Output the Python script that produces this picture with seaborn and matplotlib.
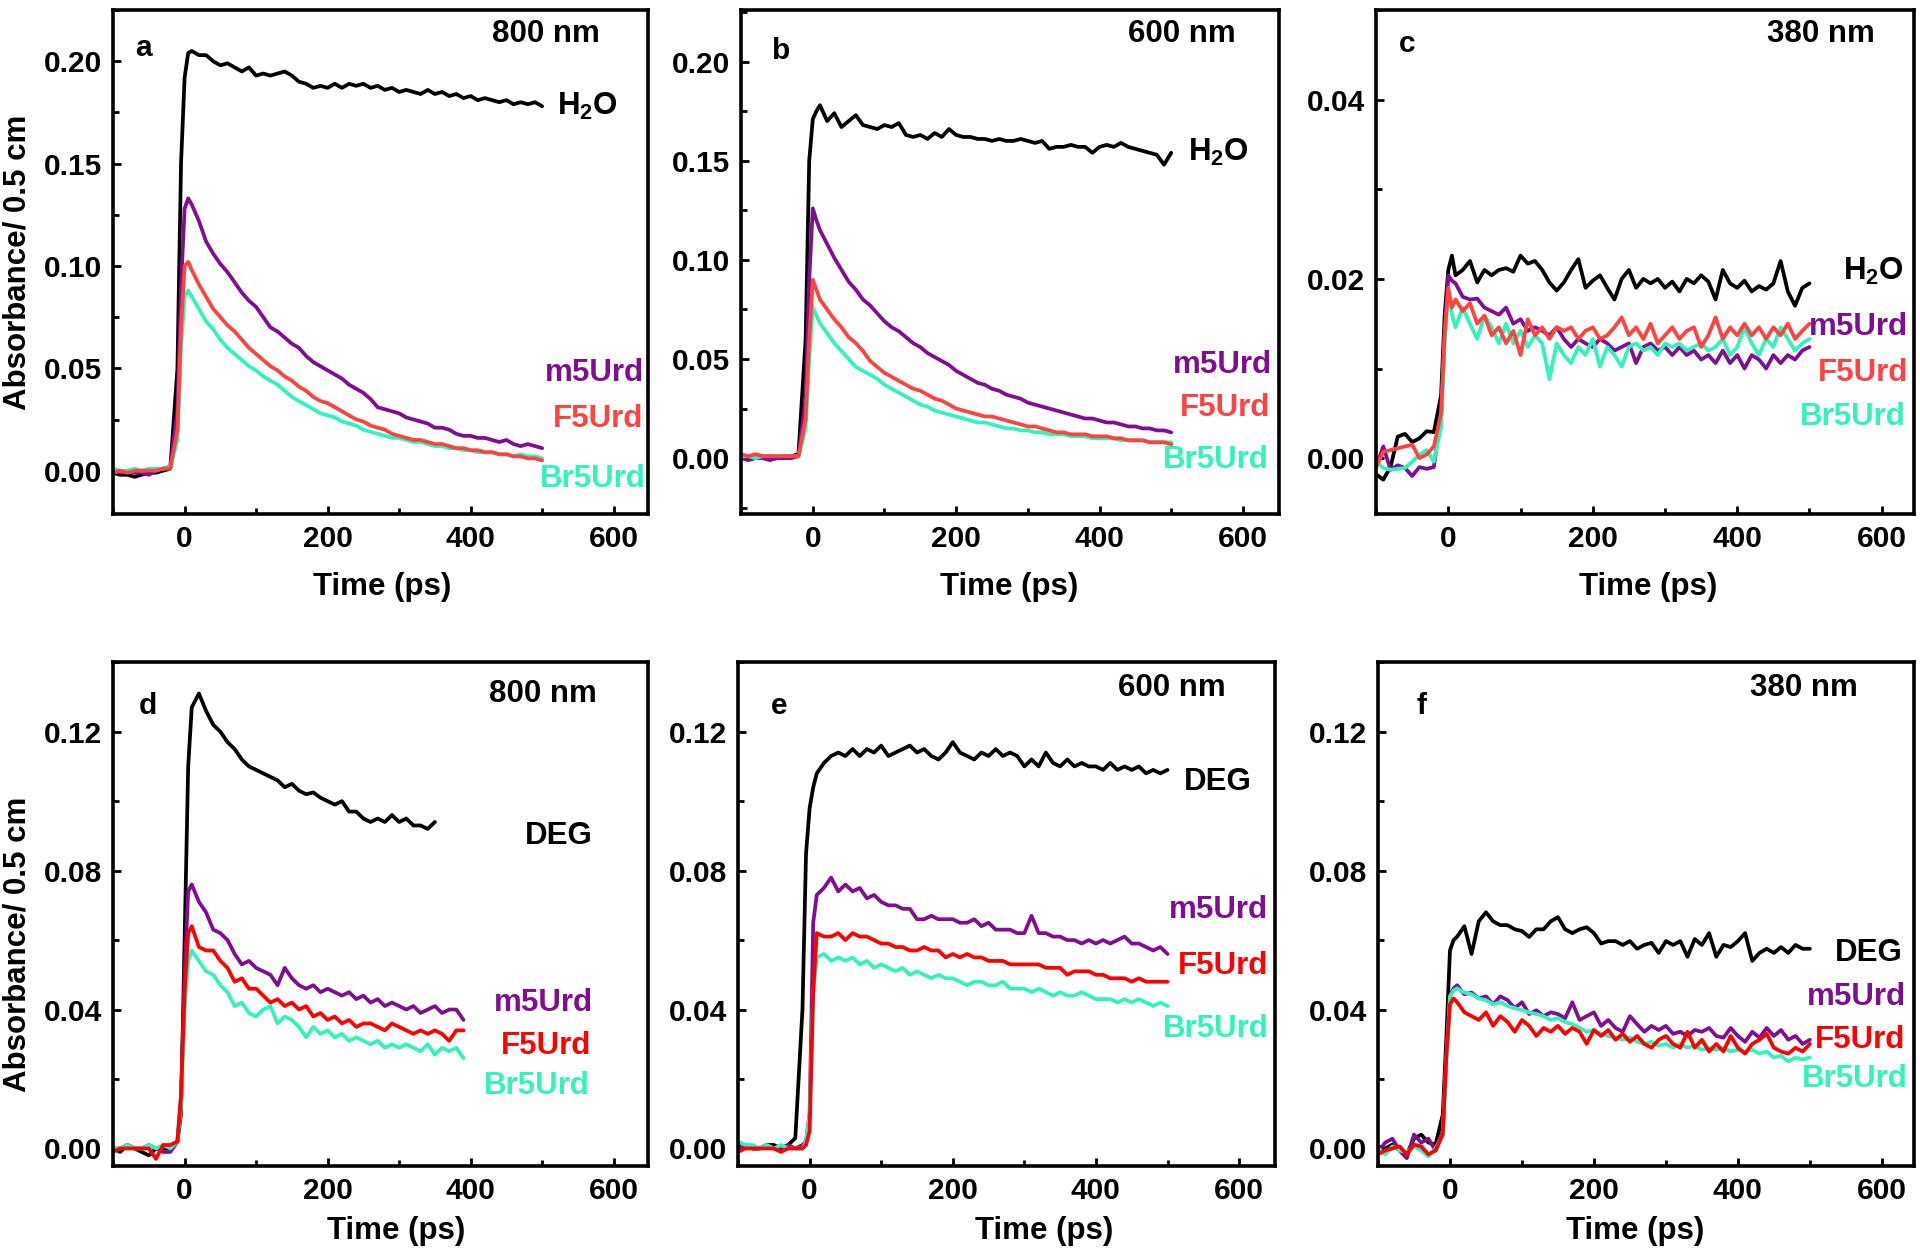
import matplotlib.pyplot as plt
import pandas as pd
import seaborn as sns
from matplotlib.ticker import FormatStrFormatter, MultipleLocator

# delay times (ps), shared by every trace
T = [-100, -90, -80, -70, -60, -50, -40, -30, -20, -10, -5, 0, 5, 10,
     20, 30, 40, 50, 60, 70, 80, 90, 100, 110,
     120, 130, 140, 150, 160, 170, 180, 190, 200, 210,
     220, 230, 240, 250, 260, 270, 280, 290, 300, 310,
     320, 330, 340, 350, 360, 370, 380, 390, 400, 410,
     420, 430, 440, 450, 460, 470, 480, 490, 500]

# ---- a: 800 nm, H2O ----
h2o_a = [-0.001, -0.002, -0.002, -0.003, -0.002, -0.001, -0.001, 0.000, 0.001,
         0.050, 0.150, 0.192, 0.204, 0.205,
         0.203, 0.203, 0.200, 0.198, 0.199, 0.197, 0.195, 0.197, 0.193, 0.194,
         0.193, 0.194, 0.195, 0.193, 0.190, 0.189, 0.187, 0.188, 0.187, 0.189,
         0.187, 0.189, 0.188, 0.189, 0.187, 0.188, 0.186, 0.187, 0.185, 0.186,
         0.185, 0.184, 0.186, 0.184, 0.185, 0.183, 0.184, 0.182, 0.183, 0.181,
         0.182, 0.181, 0.180, 0.181, 0.179, 0.180, 0.179, 0.180, 0.178]
m5_a = [0.000, -0.001, 0.000, -0.001, -0.001, -0.002, 0.000, 0.001, 0.002,
        0.030, 0.090, 0.128, 0.133, 0.130,
        0.122, 0.112, 0.106, 0.101, 0.097, 0.092, 0.087, 0.083, 0.080, 0.075,
        0.070, 0.068, 0.065, 0.062, 0.060, 0.056, 0.053, 0.051, 0.049, 0.047,
        0.045, 0.042, 0.040, 0.038, 0.035, 0.031, 0.030, 0.029, 0.028, 0.026,
        0.025, 0.024, 0.023, 0.021, 0.021, 0.020, 0.018, 0.017, 0.017, 0.016,
        0.016, 0.015, 0.014, 0.015, 0.013, 0.012, 0.013, 0.012, 0.011]
f5_a = [-0.001, 0.000, -0.001, 0.000, 0.000, 0.000, 0.000, 0.001, 0.001,
        0.020, 0.070, 0.100, 0.102, 0.098,
        0.091, 0.085, 0.079, 0.075, 0.071, 0.068, 0.064, 0.060, 0.057, 0.054,
        0.051, 0.049, 0.046, 0.044, 0.041, 0.039, 0.036, 0.034, 0.033, 0.031,
        0.029, 0.027, 0.025, 0.024, 0.022, 0.021, 0.020, 0.018, 0.017, 0.016,
        0.015, 0.015, 0.014, 0.013, 0.013, 0.012, 0.011, 0.011, 0.010, 0.010,
        0.009, 0.009, 0.008, 0.008, 0.007, 0.007, 0.006, 0.006, 0.005]
br5_a = [0.001, 0.000, 0.000, 0.001, 0.000, 0.001, 0.001, 0.001, 0.002,
         0.015, 0.060, 0.085, 0.088, 0.085,
         0.079, 0.073, 0.069, 0.064, 0.060, 0.057, 0.054, 0.051, 0.049, 0.046,
         0.044, 0.042, 0.039, 0.036, 0.034, 0.032, 0.030, 0.028, 0.027, 0.026,
         0.024, 0.023, 0.022, 0.020, 0.019, 0.018, 0.017, 0.016, 0.016, 0.015,
         0.014, 0.014, 0.013, 0.012, 0.012, 0.011, 0.011, 0.010, 0.010, 0.009,
         0.009, 0.009, 0.008, 0.008, 0.007, 0.008, 0.007, 0.007, 0.006]

# ---- b: 600 nm, H2O ----
h2o_b = [0.001, 0.000, 0.001, 0.001, 0.001, 0.000, 0.001, 0.001, 0.002,
         0.060, 0.150, 0.171, 0.175, 0.178,
         0.170, 0.174, 0.167, 0.170, 0.173, 0.168, 0.167, 0.166, 0.168, 0.167,
         0.169, 0.163, 0.162, 0.163, 0.161, 0.164, 0.162, 0.166, 0.163, 0.162,
         0.162, 0.161, 0.161, 0.160, 0.161, 0.160, 0.160, 0.161, 0.160, 0.159,
         0.160, 0.156, 0.157, 0.157, 0.158, 0.157, 0.157, 0.154, 0.157, 0.158,
         0.157, 0.159, 0.157, 0.156, 0.155, 0.154, 0.153, 0.148, 0.154]
m5_b = [0.000, -0.001, 0.000, 0.000, -0.001, 0.000, 0.000, 0.000, 0.001,
        0.030, 0.090, 0.126, 0.120, 0.115,
        0.108, 0.101, 0.095, 0.089, 0.085, 0.080, 0.077, 0.073, 0.069, 0.066,
        0.064, 0.061, 0.058, 0.056, 0.053, 0.051, 0.049, 0.047, 0.044, 0.042,
        0.040, 0.038, 0.037, 0.035, 0.034, 0.032, 0.031, 0.030, 0.028, 0.027,
        0.026, 0.025, 0.024, 0.023, 0.022, 0.021, 0.020, 0.020, 0.019, 0.018,
        0.018, 0.017, 0.016, 0.016, 0.015, 0.015, 0.014, 0.014, 0.013]
f5_b = [0.002, 0.001, 0.002, 0.001, 0.001, 0.001, 0.001, 0.001, 0.001,
        0.020, 0.060, 0.090, 0.085, 0.080,
        0.075, 0.070, 0.066, 0.061, 0.058, 0.054, 0.049, 0.046, 0.043, 0.041,
        0.039, 0.037, 0.035, 0.034, 0.032, 0.030, 0.029, 0.027, 0.025, 0.024,
        0.023, 0.022, 0.021, 0.021, 0.020, 0.019, 0.018, 0.017, 0.016, 0.016,
        0.015, 0.014, 0.013, 0.013, 0.012, 0.012, 0.012, 0.011, 0.011, 0.011,
        0.010, 0.010, 0.009, 0.009, 0.009, 0.008, 0.008, 0.008, 0.007]
br5_b = [0.001, 0.001, 0.000, 0.001, 0.001, 0.001, 0.001, 0.001, 0.001,
         0.015, 0.050, 0.076, 0.072, 0.068,
         0.063, 0.058, 0.054, 0.050, 0.046, 0.044, 0.042, 0.040, 0.037, 0.035,
         0.033, 0.031, 0.029, 0.027, 0.026, 0.024, 0.023, 0.022, 0.021, 0.020,
         0.019, 0.018, 0.018, 0.017, 0.016, 0.015, 0.015, 0.014, 0.014, 0.013,
         0.013, 0.012, 0.012, 0.012, 0.011, 0.011, 0.011, 0.010, 0.010, 0.010,
         0.010, 0.009, 0.009, 0.009, 0.009, 0.008, 0.008, 0.008, 0.008]

# ---- c: 380 nm, H2O ----
h2o_c = [-0.0018, -0.0024, -0.0010, 0.0024, 0.0027, 0.0018, 0.0022, 0.0030, 0.0029,
         0.0070, 0.0160, 0.0210, 0.0226, 0.0204,
         0.0210, 0.0220, 0.0196, 0.0210, 0.0204, 0.0210, 0.0212, 0.0208, 0.0226, 0.0217,
         0.0220, 0.0210, 0.0196, 0.0187, 0.0196, 0.0210, 0.0222, 0.0190, 0.0198, 0.0204,
         0.0190, 0.0177, 0.0200, 0.0210, 0.0190, 0.0200, 0.0195, 0.0200, 0.0190, 0.0197,
         0.0186, 0.0200, 0.0195, 0.0204, 0.0197, 0.0177, 0.0210, 0.0195, 0.0190, 0.0198,
         0.0186, 0.0192, 0.0188, 0.0195, 0.0220, 0.0186, 0.0170, 0.0190, 0.0195]
m5_c = [-0.0010, 0.0013, -0.0013, -0.0008, -0.0011, -0.0020, -0.0010, -0.0012, -0.0010,
        0.0050, 0.0140, 0.0204, 0.0198, 0.0195,
        0.0180, 0.0177, 0.0178, 0.0168, 0.0164, 0.0160, 0.0168, 0.0150, 0.0155, 0.0142,
        0.0146, 0.0142, 0.0137, 0.0146, 0.0133, 0.0124, 0.0133, 0.0128, 0.0124, 0.0133,
        0.0128, 0.0120, 0.0124, 0.0128, 0.0106, 0.0124, 0.0128, 0.0120, 0.0124, 0.0115,
        0.0124, 0.0115, 0.0120, 0.0110, 0.0115, 0.0106, 0.0120, 0.0106, 0.0115, 0.0100,
        0.0115, 0.0110, 0.0100, 0.0115, 0.0106, 0.0115, 0.0110, 0.0120, 0.0124]
f5_c = [-0.0010, 0.0007, 0.0009, 0.0011, 0.0013, 0.0015, 0.0000, 0.0004, 0.0013,
        0.0050, 0.0140, 0.0190, 0.0168, 0.0177,
        0.0164, 0.0173, 0.0150, 0.0159, 0.0137, 0.0146, 0.0128, 0.0142, 0.0115, 0.0155,
        0.0137, 0.0146, 0.0133, 0.0146, 0.0142, 0.0146, 0.0133, 0.0142, 0.0146, 0.0133,
        0.0137, 0.0146, 0.0157, 0.0137, 0.0146, 0.0133, 0.0150, 0.0128, 0.0137, 0.0146,
        0.0133, 0.0142, 0.0146, 0.0124, 0.0137, 0.0157, 0.0133, 0.0146, 0.0137, 0.0150,
        0.0137, 0.0146, 0.0133, 0.0146, 0.0137, 0.0150, 0.0133, 0.0142, 0.0150]
br5_c = [-0.0004, -0.0011, -0.0013, -0.0012, -0.0011, -0.0004, 0.0004, 0.0009, -0.0004,
         0.0035, 0.0130, 0.0186, 0.0160, 0.0146,
         0.0168, 0.0150, 0.0133, 0.0159, 0.0146, 0.0128, 0.0150, 0.0128, 0.0142, 0.0124,
         0.0137, 0.0128, 0.0088, 0.0128, 0.0115, 0.0106, 0.0124, 0.0115, 0.0133, 0.0102,
         0.0124, 0.0115, 0.0102, 0.0124, 0.0128, 0.0120, 0.0124, 0.0115, 0.0128, 0.0124,
         0.0128, 0.0120, 0.0124, 0.0128, 0.0120, 0.0124, 0.0133, 0.0115, 0.0124, 0.0146,
         0.0128, 0.0115, 0.0133, 0.0124, 0.0146, 0.0133, 0.0120, 0.0128, 0.0133]

# ---- d: 800 nm, DEG (shorter scans) ----
deg_d = [0.000, -0.001, 0.001, 0.000, -0.001, -0.002, 0.000, 0.000, 0.000,
         0.002, 0.010, 0.060, 0.110, 0.127,
         0.131, 0.126, 0.122, 0.120, 0.117, 0.115, 0.112, 0.110, 0.109, 0.108,
         0.107, 0.106, 0.104, 0.105, 0.103, 0.102, 0.1025, 0.101, 0.100, 0.099,
         0.100, 0.097, 0.097, 0.095, 0.094, 0.095, 0.094, 0.096, 0.094, 0.095,
         0.093, 0.093, 0.092, 0.094]
m5_d = [0.000, 0.000, 0.001, 0.000, 0.000, 0.001, 0.000, -0.001, -0.001,
        0.002, 0.015, 0.050, 0.074, 0.076,
        0.071, 0.068, 0.063, 0.062, 0.060, 0.056, 0.053, 0.054, 0.052, 0.051,
        0.050, 0.047, 0.052, 0.049, 0.047, 0.046, 0.047, 0.045, 0.046, 0.045,
        0.044, 0.045, 0.043, 0.044, 0.042, 0.043, 0.041, 0.042, 0.041, 0.040,
        0.041, 0.039, 0.040, 0.041, 0.039, 0.040, 0.040, 0.037]
f5_d = [-0.001, 0.000, 0.000, 0.000, 0.000, 0.000, -0.003, 0.001, 0.001,
        0.002, 0.015, 0.045, 0.062, 0.064,
        0.058, 0.057, 0.057, 0.054, 0.052, 0.048, 0.049, 0.046, 0.046, 0.044,
        0.042, 0.043, 0.041, 0.042, 0.040, 0.041, 0.038, 0.039, 0.037, 0.038,
        0.036, 0.037, 0.035, 0.036, 0.036, 0.035, 0.034, 0.036, 0.035, 0.034,
        0.033, 0.034, 0.033, 0.034, 0.033, 0.031, 0.034, 0.034]
br5_d = [0.000, 0.000, 0.001, 0.000, 0.000, 0.001, 0.000, 0.001, 0.000,
         0.002, 0.012, 0.040, 0.054, 0.057,
         0.054, 0.051, 0.050, 0.047, 0.045, 0.041, 0.042, 0.039, 0.038, 0.040,
         0.041, 0.036, 0.038, 0.037, 0.035, 0.032, 0.035, 0.033, 0.034, 0.032,
         0.033, 0.031, 0.032, 0.031, 0.030, 0.031, 0.029, 0.030, 0.029, 0.030,
         0.029, 0.028, 0.030, 0.027, 0.029, 0.028, 0.029, 0.026]

# ---- e: 600 nm, DEG ----
deg_e = [0.001, 0.001, 0.000, 0.000, 0.001, 0.001, 0.000, 0.001, 0.003,
         0.040, 0.085, 0.098, 0.104, 0.108,
         0.111, 0.113, 0.114, 0.113, 0.115, 0.113, 0.115, 0.114, 0.116, 0.113,
         0.114, 0.115, 0.116, 0.114, 0.115, 0.113, 0.112, 0.114, 0.117, 0.114,
         0.113, 0.112, 0.114, 0.113, 0.115, 0.113, 0.114, 0.113, 0.110, 0.112,
         0.110, 0.114, 0.111, 0.110, 0.112, 0.110, 0.111, 0.110, 0.110, 0.109,
         0.111, 0.109, 0.110, 0.109, 0.110, 0.108, 0.109, 0.108, 0.109]
m5_e = [0.000, 0.001, 0.000, 0.000, 0.001, 0.000, 0.000, 0.001, 0.000,
        0.001, 0.002, 0.010, 0.065, 0.073,
        0.075, 0.078, 0.074, 0.076, 0.074, 0.075, 0.072, 0.073, 0.071, 0.070,
        0.070, 0.069, 0.069, 0.066, 0.066, 0.067, 0.066, 0.066, 0.066, 0.065,
        0.065, 0.066, 0.064, 0.065, 0.063, 0.063, 0.063, 0.062, 0.062, 0.067,
        0.062, 0.062, 0.061, 0.061, 0.060, 0.060, 0.059, 0.060, 0.059, 0.060,
        0.059, 0.060, 0.061, 0.059, 0.059, 0.058, 0.057, 0.058, 0.056]
f5_e = [-0.001, 0.000, 0.000, 0.000, 0.000, 0.000, -0.001, 0.000, 0.000,
        0.000, 0.001, 0.005, 0.045, 0.062,
        0.061, 0.061, 0.062, 0.060, 0.062, 0.061, 0.061, 0.060, 0.059, 0.059,
        0.058, 0.058, 0.057, 0.057, 0.058, 0.057, 0.057, 0.055, 0.056, 0.055,
        0.056, 0.055, 0.055, 0.054, 0.054, 0.054, 0.053, 0.053, 0.053, 0.053,
        0.053, 0.052, 0.052, 0.052, 0.050, 0.051, 0.051, 0.051, 0.050, 0.050,
        0.049, 0.049, 0.049, 0.048, 0.049, 0.048, 0.048, 0.048, 0.048]
br5_e = [0.002, 0.001, 0.001, 0.000, 0.001, 0.000, 0.001, 0.000, 0.000,
         0.000, 0.002, 0.010, 0.045, 0.055,
         0.056, 0.054, 0.055, 0.054, 0.055, 0.053, 0.054, 0.052, 0.053, 0.052,
         0.051, 0.052, 0.050, 0.051, 0.050, 0.049, 0.050, 0.049, 0.049, 0.048,
         0.047, 0.048, 0.048, 0.047, 0.047, 0.048, 0.046, 0.046, 0.046, 0.045,
         0.046, 0.045, 0.044, 0.045, 0.044, 0.044, 0.045, 0.044, 0.043, 0.043,
         0.043, 0.042, 0.043, 0.042, 0.043, 0.042, 0.041, 0.042, 0.041]

# ---- f: 380 nm, DEG ----
deg_f = [0.0006, 0.0000, 0.0011, 0.0000, -0.0017, 0.0028, 0.0040, 0.0017, 0.0011,
         0.0097, 0.0320, 0.0570, 0.0600, 0.0610,
         0.0640, 0.0560, 0.0654, 0.0680, 0.0654, 0.0643, 0.0643, 0.0631, 0.0626, 0.0609,
         0.0631, 0.0631, 0.0654, 0.0666, 0.0631, 0.0620, 0.0631, 0.0637, 0.0620, 0.0590,
         0.0597, 0.0597, 0.0586, 0.0597, 0.0575, 0.0586, 0.0592, 0.0563, 0.0597, 0.0586,
         0.0597, 0.0552, 0.0603, 0.0586, 0.0620, 0.0552, 0.0586, 0.0580, 0.0597, 0.0620,
         0.0540, 0.0563, 0.0575, 0.0563, 0.0580, 0.0563, 0.0586, 0.0575, 0.0575]
m5_f = [-0.0011, 0.0017, 0.0028, -0.0006, -0.0028, 0.0040, 0.0017, 0.0028, -0.0006,
        0.0051, 0.0267, 0.0438, 0.0461, 0.0470,
        0.0444, 0.0449, 0.0432, 0.0438, 0.0415, 0.0438, 0.0427, 0.0404, 0.0421, 0.0387,
        0.0398, 0.0381, 0.0392, 0.0387, 0.0375, 0.0421, 0.0370, 0.0381, 0.0392, 0.0353,
        0.0370, 0.0347, 0.0336, 0.0381, 0.0358, 0.0336, 0.0353, 0.0341, 0.0353, 0.0330,
        0.0336, 0.0324, 0.0341, 0.0336, 0.0347, 0.0324, 0.0319, 0.0347, 0.0324, 0.0307,
        0.0336, 0.0319, 0.0347, 0.0324, 0.0341, 0.0313, 0.0324, 0.0301, 0.0313]
f5_f = [-0.0017, -0.0006, 0.0000, 0.0006, -0.0017, 0.0011, 0.0006, -0.0017, -0.0006,
        0.0040, 0.0267, 0.0415, 0.0432, 0.0421,
        0.0392, 0.0381, 0.0370, 0.0392, 0.0353, 0.0381, 0.0364, 0.0336, 0.0370, 0.0353,
        0.0324, 0.0347, 0.0336, 0.0353, 0.0330, 0.0347, 0.0336, 0.0301, 0.0341, 0.0324,
        0.0341, 0.0313, 0.0330, 0.0307, 0.0324, 0.0301, 0.0290, 0.0313, 0.0324, 0.0301,
        0.0290, 0.0336, 0.0290, 0.0313, 0.0279, 0.0301, 0.0279, 0.0324, 0.0290, 0.0273,
        0.0301, 0.0313, 0.0330, 0.0290, 0.0279, 0.0273, 0.0290, 0.0279, 0.0301]
br5_f = [0.0000, -0.0017, 0.0006, -0.0006, -0.0011, 0.0006, -0.0006, -0.0023, 0.0000,
         0.0040, 0.0256, 0.0438, 0.0455, 0.0461,
         0.0449, 0.0444, 0.0432, 0.0427, 0.0415, 0.0421, 0.0410, 0.0404, 0.0398, 0.0392,
         0.0387, 0.0381, 0.0370, 0.0375, 0.0364, 0.0358, 0.0347, 0.0336, 0.0341, 0.0330,
         0.0324, 0.0319, 0.0313, 0.0319, 0.0307, 0.0301, 0.0307, 0.0296, 0.0301, 0.0290,
         0.0301, 0.0290, 0.0296, 0.0284, 0.0290, 0.0284, 0.0290, 0.0279, 0.0284, 0.0279,
         0.0284, 0.0273, 0.0279, 0.0262, 0.0267, 0.0250, 0.0262, 0.0256, 0.0262]

PURPLE = '#7E0F8E'
CYAN = '#33F2BE'

# letter, wavelength, solvent, series, axes rect, ylim, y major step, xlim
PANELS = [
    ('a', '800 nm', 'H2O', [h2o_a, m5_a, f5_a, br5_a], [0.0589, 0.592, 0.2786, 0.400], (-0.021, 0.225), 0.05, (-100, 648)),
    ('b', '600 nm', 'H2O', [h2o_b, m5_b, f5_b, br5_b], [0.3860, 0.592, 0.2800, 0.400], (-0.028, 0.226), 0.05, (-100, 650)),
    ('c', '380 nm', 'H2O', [h2o_c, m5_c, f5_c, br5_c], [0.7167, 0.592, 0.2803, 0.400], (-0.0062, 0.050), 0.02, (-100, 645)),
    ('d', '800 nm', 'DEG', [deg_d, m5_d, f5_d, br5_d], [0.0589, 0.074, 0.2786, 0.400], (-0.005, 0.140), 0.04, (-100, 648)),
    ('e', '600 nm', 'DEG', [deg_e, m5_e, f5_e, br5_e], [0.3844, 0.074, 0.2796, 0.400], (-0.005, 0.140), 0.04, (-100, 650)),
    ('f', '380 nm', 'DEG', [deg_f, m5_f, f5_f, br5_f], [0.7177, 0.074, 0.2793, 0.400], (-0.005, 0.140), 0.04, (-100, 645)),
]

# text layout in axes fraction: letter xy, wavelength xy, xlabel x,
# solvent (x, y, ha), m5 / F5 / Br5 (x, y, ha)
LAYOUT = {
    'a': [(0.057, 0.925), (0.81, 0.953), 0.503, (0.829, 0.809, 'left'),
          (0.992, 0.280, 'right'), (0.992, 0.187, 'right'), (0.995, 0.069, 'right')],
    'b': [(0.075, 0.918), (0.82, 0.953), 0.498, (0.831, 0.717, 'left'),
          (0.988, 0.295, 'right'), (0.985, 0.209, 'right'), (0.981, 0.106, 'right')],
    'c': [(0.057, 0.933), (0.826, 0.953), 0.505, (0.868, 0.480, 'left'),
          (0.805, 0.370, 'left'), (0.988, 0.279, 'right'), (0.984, 0.192, 'right')],
    'd': [(0.065, 0.914), (0.803, 0.937), 0.530, (0.834, 0.655, 'center'),
          (0.897, 0.324, 'right'), (0.893, 0.238, 'right'), (0.892, 0.159, 'right')],
    'e': [(0.077, 0.914), (0.809, 0.949), 0.570, (0.831, 0.763, 'left'),
          (0.988, 0.508, 'right'), (0.988, 0.397, 'right'), (0.988, 0.271, 'right')],
    'f': [(0.082, 0.914), (0.795, 0.949), 0.480, (0.852, 0.423, 'left'),
          (0.984, 0.336, 'right'), (0.984, 0.250, 'right'), (0.988, 0.172, 'right')],
}

sns.set_theme(style='ticks')
plt.rcParams['font.family'] = ['Liberation Sans', 'DejaVu Sans']
plt.rcParams['font.weight'] = 'bold'
plt.rcParams['text.color'] = 'black'
plt.rcParams['axes.labelcolor'] = 'black'
plt.rcParams['xtick.color'] = 'black'
plt.rcParams['ytick.color'] = 'black'
plt.rcParams['mathtext.fontset'] = 'custom'
plt.rcParams['mathtext.bf'] = 'Liberation Sans:bold'
plt.rcParams['mathtext.rm'] = 'Liberation Sans:bold'
plt.rcParams['mathtext.default'] = 'bf'

fig = plt.figure(figsize=(19.2, 12.59), dpi=100)
FS = 22.5

for row, (letter, wl, solvent, series, rect, ylim, ystep, xlim) in enumerate(PANELS):
    red = '#FF4242' if row < 3 else '#FF0000'
    names = [solvent, 'm5Urd', 'F5Urd', 'Br5Urd']
    palette = {solvent: 'black', 'm5Urd': PURPLE, 'F5Urd': red, 'Br5Urd': CYAN}
    frames = []
    for name, values in zip(names, series):
        frames.append(pd.DataFrame({'Time': T[:len(values)], 'Abs': values, 'Sample': name}))
    data = pd.concat(frames, ignore_index=True)

    ax = fig.add_axes(rect)
    sns.lineplot(data=data, x='Time', y='Abs', hue='Sample',
                 hue_order=[solvent, 'm5Urd', 'Br5Urd', 'F5Urd'], palette=palette,
                 estimator=None, sort=False, legend=False, linewidth=2.7, ax=ax)
    ax.set_xlim(*xlim)
    ax.set_ylim(*ylim)
    ax.xaxis.set_major_locator(MultipleLocator(200))
    ax.xaxis.set_minor_locator(MultipleLocator(100))
    ax.yaxis.set_major_locator(MultipleLocator(ystep))
    ax.yaxis.set_minor_locator(MultipleLocator(ystep / 2))
    ax.yaxis.set_major_formatter(FormatStrFormatter('%.2f'))
    ax.tick_params(which='both', direction='in', width=2, colors='black',
                   labelsize=21.5, pad=8, top=False, right=False)
    ax.tick_params(which='major', length=6)
    ax.tick_params(which='minor', length=4)
    for lab in ax.get_xticklabels() + ax.get_yticklabels():
        lab.set_fontweight('bold')
    for sp in ax.spines.values():
        sp.set_visible(True)
        sp.set_linewidth(2.6)
        sp.set_color('black')

    lay = LAYOUT[letter]
    ax.set_xlabel('Time (ps)', fontsize=FS, fontweight='bold', color='black')
    ax.xaxis.set_label_coords(lay[2], -0.115 if row < 3 else -0.10)
    if letter in ('a', 'd'):
        ax.set_ylabel('Absorbance/ 0.5 cm', fontsize=FS, fontweight='bold', color='black')
        ax.yaxis.set_label_coords(-0.15, 0.50 if letter == 'a' else 0.44)
    else:
        ax.set_ylabel('')

    ax.text(*lay[0], letter, transform=ax.transAxes, fontsize=FS - 1,
            fontweight='bold', ha='center', va='center', color='black')
    ax.text(*lay[1], wl, transform=ax.transAxes, fontsize=FS,
            fontweight='bold', ha='center', va='center', color='black')
    solvent_label = 'H$_2$O' if solvent == 'H2O' else 'DEG'
    colors = ['black', PURPLE, red, CYAN]
    for (x, y, ha), name, col in zip(lay[3:], [solvent_label, 'm5Urd', 'F5Urd', 'Br5Urd'], colors):
        ax.text(x, y, name, transform=ax.transAxes, fontsize=FS, fontweight='bold',
                color=col, ha=ha, va='center')

fig.savefig('out.png', dpi=100)
